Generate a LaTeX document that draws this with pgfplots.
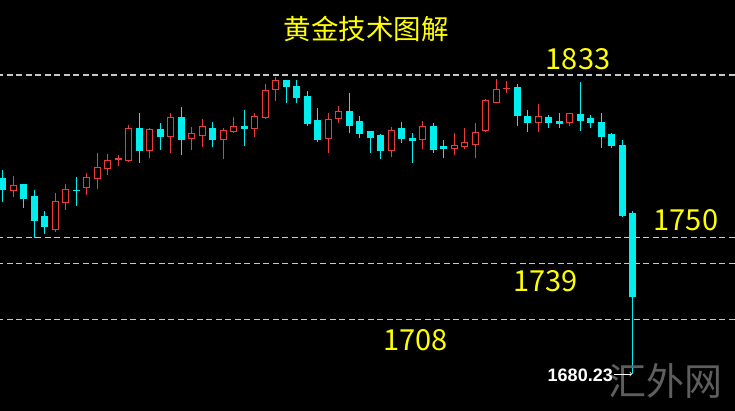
\documentclass[border=0pt]{standalone}
\usepackage{pgfplots}
\pgfplotsset{compat=1.18}
\usepackage{pgfplotstable}
\usepackage{fontspec}
\setmainfont{Liberation Sans}
\newfontfamily\cjk{Noto Sans CJK SC}
\definecolor{candlered}{RGB}{235,60,60}
\definecolor{candlecyan}{RGB}{0,238,238}
\definecolor{gridgray}{RGB}{200,200,200}
\definecolor{lblyellow}{RGB}{255,255,0}
\definecolor{wmgray}{RGB}{105,105,105}

\pgfplotstableread{
i o h l c
0 1780.2 1784.5 1768.3 1774.6
1 1774.2 1781.4 1770.8 1776.6
2 1776.8 1777.3 1764.9 1770.0
3 1770.8 1774.2 1749.5 1758.5
4 1760.6 1763.6 1751.7 1755.5
5 1753.8 1772.8 1752.9 1768.2
6 1767.7 1777.3 1764.0 1774.6
7 1774.2 1781.0 1766.0 1773.9
8 1775.6 1783.1 1771.7 1780.7
9 1780.0 1793.3 1774.6 1785.8
10 1785.3 1792.6 1781.9 1789.5
11 1789.8 1792.1 1786.5 1790.3
12 1789.5 1807.4 1788.7 1805.7
13 1805.7 1813.7 1787.9 1794.6
14 1794.6 1805.7 1790.4 1805.2
15 1805.2 1808.3 1794.6 1801.4
16 1801.8 1813.7 1793.0 1811.2
17 1811.4 1816.8 1792.1 1799.8
18 1800.6 1806.6 1794.6 1803.2
19 1802.3 1810.3 1796.0 1806.6
20 1805.7 1809.1 1796.0 1799.8
21 1800.1 1805.7 1789.9 1804.4
22 1804.0 1811.4 1803.5 1806.9
23 1806.6 1815.1 1796.7 1805.5
24 1805.7 1813.4 1801.4 1811.7
25 1811.4 1828.2 1810.3 1825.0
26 1825.7 1832.1 1819.8 1830.4
27 1830.1 1830.4 1818.5 1827.0
28 1827.0 1830.4 1818.5 1821.6
29 1822.2 1825.0 1806.9 1808.3
30 1809.6 1816.0 1798.9 1800.1
31 1800.6 1813.7 1793.0 1810.3
32 1810.9 1817.1 1808.3 1814.2
33 1814.2 1823.6 1803.2 1807.4
34 1809.1 1812.0 1800.6 1803.2
35 1803.9 1804.5 1793.0 1800.9
36 1802.3 1802.8 1789.9 1794.6
37 1794.6 1806.6 1791.2 1804.4
38 1805.7 1809.0 1798.4 1800.6
39 1800.6 1803.5 1787.9 1799.4
40 1800.1 1809.6 1795.0 1806.6
41 1806.6 1808.3 1793.0 1795.0
42 1796.3 1799.8 1790.4 1795.3
43 1795.3 1803.5 1792.1 1796.7
44 1796.3 1805.7 1795.0 1798.4
45 1797.7 1808.3 1790.4 1803.5
46 1804.5 1820.6 1804.0 1819.8
47 1818.8 1830.9 1818.5 1825.7
48 1826.0 1830.1 1823.9 1826.3
49 1826.7 1828.4 1806.9 1812.2
50 1812.0 1815.1 1804.0 1808.6
51 1808.6 1818.2 1804.0 1812.0
52 1811.4 1812.5 1806.1 1808.6
53 1809.1 1813.7 1805.7 1808.3
54 1808.6 1813.7 1806.9 1813.4
55 1812.9 1829.6 1804.5 1809.5
56 1810.9 1812.5 1806.1 1808.6
57 1808.6 1813.7 1795.5 1801.4
58 1802.8 1803.5 1795.5 1797.2
59 1797.2 1799.8 1760.6 1761.3
60 1762.3 1763.6 1680.23 1720.0
}\candles

\begin{document}
\begin{tikzpicture}
\begin{axis}[
  width=735pt, height=411pt, scale only axis,
  xmin=-0.257, xmax=69.74, ymin=1661.3, ymax=1871.3,
  axis background/.style={fill=black},
  axis line style={draw=none},
  xtick=\empty, ytick=\empty,
  bullbody/.style={draw=candlered, fill=black, line width=1pt, mark=none},
  bearbody/.style={draw=candlecyan, fill=candlecyan, line width=1pt, mark=none},
  bullwick/.style={candlered, line width=1pt, mark=none},
  bearwick/.style={candlecyan, line width=1pt, mark=none},
  level/.style={gridgray, line width=1.3pt, dash pattern=on 6pt off 3.5pt, mark=none},
]
% reference levels
\addplot[level] coordinates {(-0.5,1833) (71,1833)};
\addplot[level] coordinates {(-0.5,1750) (71,1750)};
\addplot[level] coordinates {(-0.5,1736.7) (71,1736.7)};
\addplot[level] coordinates {(-0.5,1708) (71,1708)};
% candles
\pgfplotsinvokeforeach{0,...,60}{
  \pgfplotstablegetelem{#1}{o}\of\candles \let\vo\pgfplotsretval
  \pgfplotstablegetelem{#1}{h}\of\candles \let\vh\pgfplotsretval
  \pgfplotstablegetelem{#1}{l}\of\candles \let\vl\pgfplotsretval
  \pgfplotstablegetelem{#1}{c}\of\candles \let\vc\pgfplotsretval
  \pgfmathsetmacro{\vbot}{min(\vo,\vc)}
  \pgfmathsetmacro{\vtop}{max(\vo,\vc)}
  \pgfmathsetmacro{\xl}{#1-0.3}
  \pgfmathsetmacro{\xr}{#1+0.3}
  \pgfmathtruncatemacro{\isbull}{\vc>\vo ? 1 : 0}
  \ifnum\isbull=1 \def\cstyle{bull}\else\def\cstyle{bear}\fi
  \edef\temp{%
    \noexpand\addplot[\cstyle wick] coordinates {(#1,\vl) (#1,\vh)};
    \noexpand\addplot[\cstyle body] coordinates {(\xl,\vbot) (\xr,\vbot) (\xr,\vtop) (\xl,\vtop)} -- cycle;
  }%
  \temp
}
% labels
\node[text=lblyellow, inner sep=0pt] at (rel axis cs:0.498,0.9294) {\cjk\fontsize{27.5}{30}\selectfont 黄金技术图解};
\node[text=lblyellow, inner sep=0pt] at (rel axis cs:0.7864,0.8564) {\cjk\fontsize{29}{30}\selectfont 1833};
\node[text=lblyellow, inner sep=0pt] at (rel axis cs:0.9333,0.4647) {\cjk\fontsize{29}{30}\selectfont 1750};
\node[text=lblyellow, inner sep=0pt] at (rel axis cs:0.7419,0.3168) {\cjk\fontsize{29}{30}\selectfont 1739};
\node[text=lblyellow, inner sep=0pt] at (rel axis cs:0.5653,0.1727) {\cjk\fontsize{29}{30}\selectfont 1708};
\node[text=wmgray, inner sep=0pt, opacity=0.9] at (rel axis cs:0.9048,0.073) {\cjk\fontsize{38}{40}\selectfont 汇外网};
\node[text=white, inner sep=0pt, anchor=east] at (rel axis cs:0.834,0.0876) {\bfseries\fontsize{18}{19}\selectfont 1680.23};
\draw[white, line width=0.8pt, ->] (rel axis cs:0.836,0.0900) -- (rel axis cs:0.860,0.0900);
\end{axis}
\end{tikzpicture}
\end{document}
